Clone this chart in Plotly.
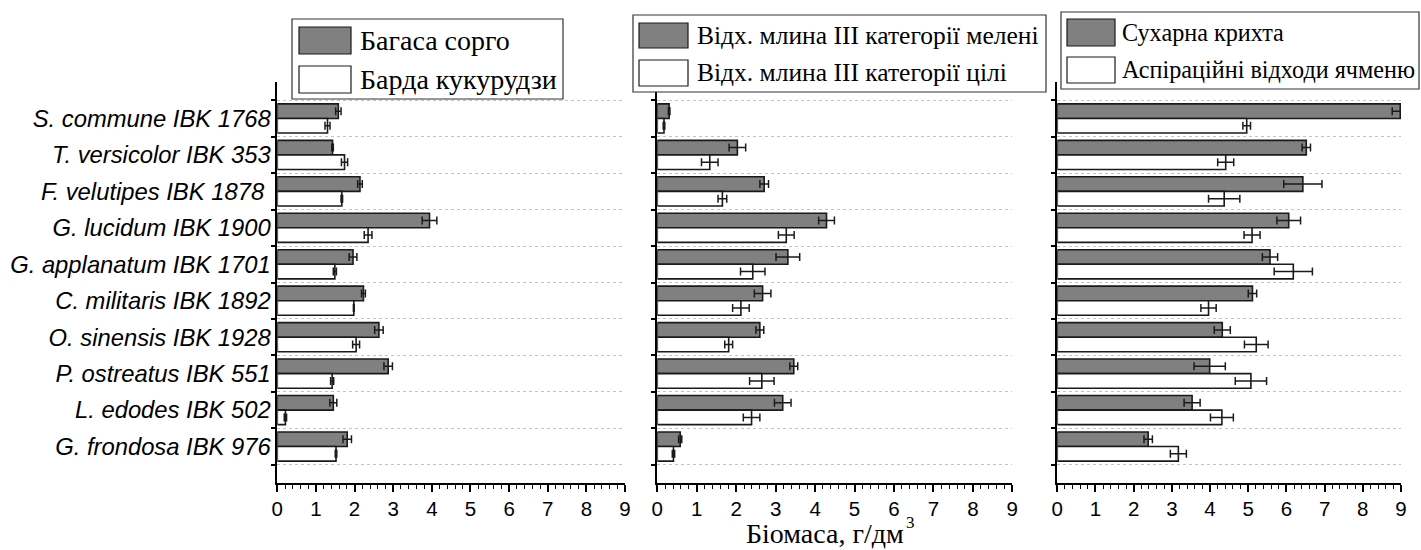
import plotly.graph_objects as go

W, H = 1421, 550

categories = ["S. commune IBK 1768", "T. versicolor IBK 353", "F. velutipes IBK 1878\u00a0",
              "G. lucidum IBK 1900", "G. applanatum IBK 1701", "C. militaris IBK 1892",
              "O. sinensis IBK 1928", "P. ostreatus IBK 551", "L. edodes IBK 502",
              "G. frondosa IBK 976"]

# Panel 1
sorghum = [1.58, 1.43, 2.14, 3.94, 1.96, 2.23, 2.63, 2.87, 1.45, 1.81]
sorghum_err = [0.07, 0.02, 0.06, 0.19, 0.10, 0.05, 0.11, 0.11, 0.09, 0.11]
corn = [1.30, 1.74, 1.67, 2.35, 1.49, 1.98, 2.04, 1.42, 0.21, 1.52]
corn_err = [0.065, 0.08, 0.02, 0.10, 0.04, 0.01, 0.09, 0.04, 0.03, 0.02]

# Panel 2
mill_ground = [0.30, 2.03, 2.71, 4.29, 3.31, 2.67, 2.60, 3.46, 3.18, 0.58]
mill_ground_err = [0.02, 0.21, 0.11, 0.20, 0.30, 0.21, 0.10, 0.10, 0.21, 0.04]
mill_whole = [0.17, 1.33, 1.65, 3.27, 2.42, 2.12, 1.81, 2.65, 2.39, 0.41]
mill_whole_err = [0.02, 0.21, 0.11, 0.20, 0.31, 0.21, 0.10, 0.31, 0.21, 0.03]

# Panel 3
crumbs = [8.98, 6.52, 6.43, 6.06, 5.57, 5.11, 4.32, 3.99, 3.53, 2.38]
crumbs_err = [0.21, 0.11, 0.50, 0.31, 0.20, 0.11, 0.21, 0.41, 0.21, 0.11]
barley = [4.96, 4.41, 4.37, 5.10, 6.18, 3.96, 5.21, 5.07, 4.31, 3.17]
barley_err = [0.10, 0.21, 0.41, 0.21, 0.50, 0.20, 0.31, 0.41, 0.30, 0.21]

legend_names = [["Багаса сорго", "Барда кукурудзи"],
                ["Відх. млина III категорії мелені", "Відх. млина III категорії цілі"],
                ["Сухарна крихта", "Аспіраційні відходи ячменю"]]

x_tick_labels = [str(i) for i in range(10)]
x_title_main = "Біомаса, г/дм"
x_title_sup = "3"

GRAY = "#808080"
pos = list(range(len(categories)))

panels = [(sorghum, sorghum_err, corn, corn_err),
          (mill_ground, mill_ground_err, mill_whole, mill_whole_err),
          (crumbs, crumbs_err, barley, barley_err)]

fig = go.Figure()
for i, (a, ae, b, be) in enumerate(panels):
    xa = "x" if i == 0 else f"x{i+1}"
    ya = "y" if i == 0 else f"y{i+1}"
    fig.add_trace(go.Bar(x=a, y=pos, orientation="h", xaxis=xa, yaxis=ya,
                         name=legend_names[i][0], showlegend=False,
                         marker=dict(color=GRAY, line=dict(color="#1a1a1a", width=1.6)),
                         error_x=dict(type="data", array=ae, color="#1a1a1a", thickness=1.5, width=4)))
    fig.add_trace(go.Bar(x=b, y=pos, orientation="h", xaxis=xa, yaxis=ya,
                         name=legend_names[i][1], showlegend=False,
                         marker=dict(color="white", line=dict(color="#1a1a1a", width=1.6)),
                         error_x=dict(type="data", array=be, color="#1a1a1a", thickness=1.5, width=4)))

x_domains = [(277.3, 625.0), (657.3, 1012.3), (1057.3, 1401.0)]
y_dom = [1 - 483 / H, 1 - 82 / H]

layout = dict(width=W, height=H, autosize=False, margin=dict(l=0, r=0, t=0, b=0),
              paper_bgcolor="white", plot_bgcolor="white",
              barmode="group", bargap=0.2, bargroupgap=0.0, showlegend=False)

for i, (x0, x1) in enumerate(x_domains):
    xk = "xaxis" if i == 0 else f"xaxis{i+1}"
    yk = "yaxis" if i == 0 else f"yaxis{i+1}"
    ya = "y" if i == 0 else f"y{i+1}"
    xa = "x" if i == 0 else f"x{i+1}"
    layout[xk] = dict(domain=[x0 / W, x1 / W], anchor=ya, range=[0, 9],
                      tickmode="array", tickvals=list(range(10)), ticktext=x_tick_labels,
                      ticks="outside", ticklen=7, tickwidth=1.5, tickcolor="black",
                      showline=True, linecolor="black", linewidth=1.5,
                      showgrid=False, zeroline=False, automargin=False,
                      tickfont=dict(family="Liberation Sans, Arial", size=20.5, color="black"),
                      minor=dict(dtick=0.2, tick0=0, ticks="outside", ticklen=4,
                                 tickwidth=1, tickcolor="black", showgrid=False))
    layout[yk] = dict(domain=y_dom, anchor=xa, range=[10, -1],
                      tickmode="array", tickvals=pos, ticktext=categories,
                      ticks="", showticklabels=(i == 0),
                      showline=True, linecolor="black", linewidth=1.5,
                      showgrid=False, zeroline=False, automargin=False,
                      tickfont=dict(family="Liberation Sans, Arial", size=23.8,
                                    color="black", style="italic"),
                      minor=dict(tickvals=[p - 0.5 for p in pos] + [len(pos) - 0.5],
                                 ticks="outside", ticklen=5, tickwidth=1.5, tickcolor="black",
                                 showgrid=True, gridcolor="#c4c4c4", griddash="dot", gridwidth=1))

fig.update_layout(**layout)

def px(x):
    return x / W

def py(y):
    return 1 - y / H

shapes = []
annotations = []
legend_boxes = [
    dict(box=(292, 19, 563, 99), sw=(299, 351), rows=[(27, 54), (66, 93)], tx=358, fs=28),
    dict(box=(633, 15, 1046, 92), sw=(639, 688), rows=[(23, 48), (60, 86)], tx=695, fs=25.5),
    dict(box=(1061, 12, 1419, 89), sw=(1067, 1115), rows=[(19, 46), (57, 83)], tx=1120, fs=24.2),
]
for i, lb in enumerate(legend_boxes):
    bx0, by0, bx1, by1 = lb["box"]
    shapes.append(dict(type="rect", xref="paper", yref="paper",
                       x0=px(bx0), x1=px(bx1), y0=py(by1), y1=py(by0),
                       line=dict(color="#333333", width=1.2), fillcolor="white", layer="above"))
    for j, (r0, r1) in enumerate(lb["rows"]):
        shapes.append(dict(type="rect", xref="paper", yref="paper",
                           x0=px(lb["sw"][0]), x1=px(lb["sw"][1]), y0=py(r1), y1=py(r0),
                           line=dict(color="#1a1a1a", width=1.2),
                           fillcolor=GRAY if j == 0 else "white", layer="above"))
        annotations.append(dict(xref="paper", yref="paper", x=px(lb["tx"]), y=py((r0 + r1) / 2),
                                xanchor="left", yanchor="middle", showarrow=False,
                                text=legend_names[i][j],
                                font=dict(family="Liberation Serif, Times New Roman",
                                          size=lb["fs"], color="black")))

annotations.append(dict(xref="paper", yref="paper", x=px(905), y=0, borderpad=0,
                        xanchor="right", yanchor="bottom", showarrow=False, text=x_title_main,
                        font=dict(family="Liberation Serif, Times New Roman", size=28, color="black")))
annotations.append(dict(xref="paper", yref="paper", x=px(905), y=py(522), borderpad=0,
                        xanchor="left", yanchor="middle", showarrow=False, text=x_title_sup,
                        font=dict(family="Liberation Serif, Times New Roman", size=17, color="black")))

fig.update_layout(shapes=shapes, annotations=annotations)
fig.write_html("out.html", config={"displayModeBar": False},
               post_script="document.body.style.margin='0';document.body.style.overflow='hidden';")
